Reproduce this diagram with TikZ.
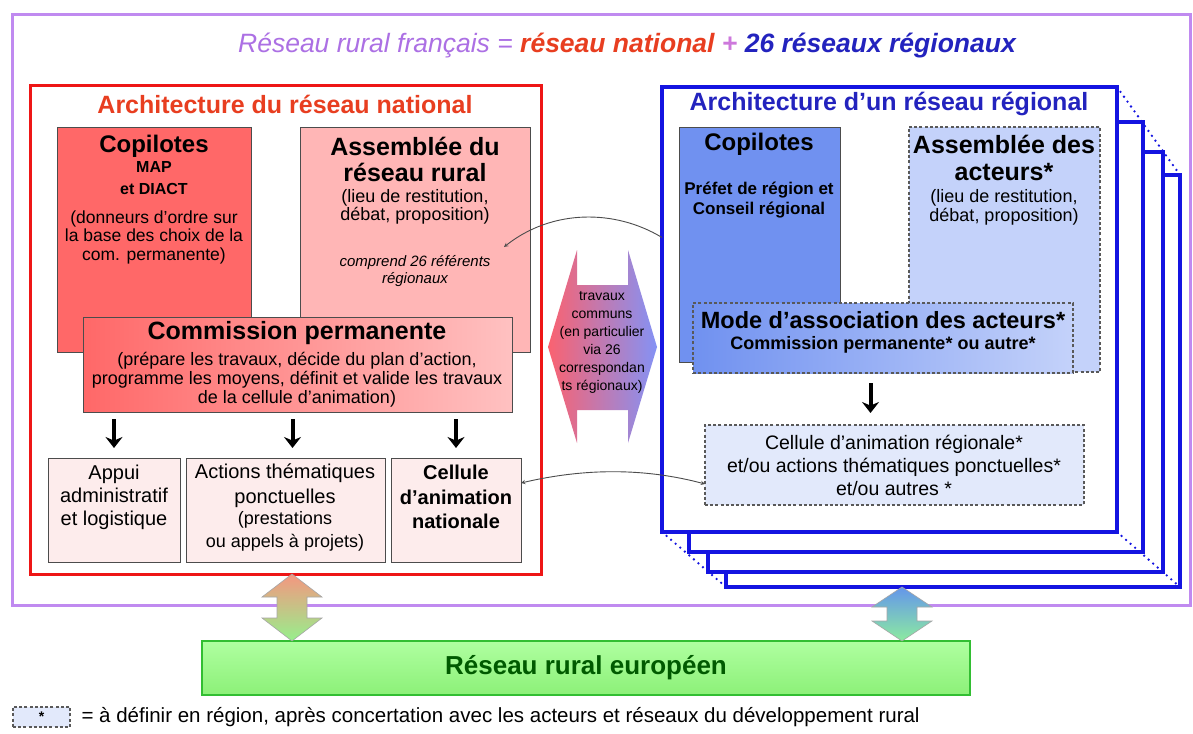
\documentclass[tikz,border=0pt]{standalone}
\usepackage{fontspec}
\setmainfont{Liberation Sans}
\usetikzlibrary{positioning,calc,arrows.meta}

\definecolor{titleviolet}{RGB}{172,112,228}
\definecolor{titleplus}{RGB}{205,120,220}
\definecolor{framepurple}{RGB}{192,138,240}
\definecolor{natred}{RGB}{255,104,104}
\definecolor{natpink}{RGB}{255,182,182}
\definecolor{natpale}{RGB}{253,236,236}
\definecolor{natframe}{RGB}{238,22,22}
\definecolor{natorange}{RGB}{232,62,32}
\definecolor{travred}{RGB}{250,98,112}
\definecolor{travblue}{RGB}{132,146,245}
\definecolor{regblue}{RGB}{20,20,225}
\definecolor{regtitle}{RGB}{35,35,190}
\definecolor{regmid}{RGB}{112,145,240}
\definecolor{reglight}{RGB}{196,210,250}
\definecolor{regpale}{RGB}{226,233,251}
\definecolor{eulight}{RGB}{175,255,160}
\definecolor{eugreen}{RGB}{140,240,120}
\definecolor{euframe}{RGB}{50,190,50}
\definecolor{eutext}{RGB}{0,90,0}
\definecolor{salmon}{RGB}{245,150,128}
\definecolor{paleg}{RGB}{150,240,140}
\definecolor{skyb}{RGB}{100,150,235}
\definecolor{mintg}{RGB}{140,235,160}

\newcommand{\fsz}[2]{\fontsize{#1}{#2}\selectfont}

\tikzset{
  cadre/.style={anchor=north west, inner sep=0pt, outer sep=0pt},
  boite/.style={cadre, draw=black!70, line width=0.8pt},
  tirets/.style={cadre, draw=black!65, line width=1.3pt, dash pattern=on 3pt off 2.2pt},
  pile/.style={cadre, draw=regblue, line width=3.5pt, fill=white},
  points/.style={regblue, line width=2.6pt, line cap=round, dash pattern=on 0pt off 6pt},
  fleche/.style={-{Stealth[length=11pt,width=17pt]}, line width=4pt},
  lien/.style={-stealth, draw=black!70, line width=0.9pt},
}

\begin{document}
\begin{tikzpicture}[x=1pt,y=-1pt]
\useasboundingbox[fill=white] (0,0) rectangle (1193,733);

\node[cadre, draw=framepurple, line width=3pt, minimum width=1178pt, minimum height=590pt] (rrf) at (12,15) {};
\node[font=\fsz{26.5}{30}\bfseries\itshape] (titre) at (627,45) {\textcolor{titleviolet}{\mdseries Réseau rural français =} \textcolor{natorange}{réseau national} \textcolor{titleplus}{+} \textcolor{regtitle}{26 réseaux régionaux}};

\node[cadre, draw=natframe, line width=3pt, minimum width=511pt, minimum height=488pt] (nat) at (30,86) {};
\node[text=natorange, font=\fsz{25}{28}\bfseries] (natT) at (285,104) {Architecture du réseau national};

\node[boite, fill=natred, minimum width=194pt, minimum height=225pt] (cop1) at (57,127) {};
\node[font=\fsz{24}{26}\bfseries] (cop1T) at (154,146) {Copilotes};
\node[font=\fsz{16}{22}\bfseries, align=center] (cop1S) at (154,178) {MAP\\et DIACT};
\node[font=\fsz{17.5}{18.5}, align=center] (cop1P) at (154,237) {(donneurs d'ordre sur\\la base des choix de la\\com. permanente)};

\node[boite, fill=natpink, minimum width=230pt, minimum height=225pt] (ass1) at (300,127) {};
\node[font=\fsz{25}{26}\bfseries, align=center] (ass1T) at (415,159) {Assemblée du\\réseau rural};
\node[font=\fsz{18}{18}, align=center] (ass1P) at (415,207) {(lieu de restitution,\\débat, proposition)};
\node[font=\fsz{15}{17}\itshape, align=center] (ass1R) at (415,271) {comprend 26 référents\\régionaux};

\node[boite, left color=natred, right color=natpink!85, minimum width=429pt, minimum height=95pt] (com1) at (83,317) {};
\node[font=\fsz{25}{26}\bfseries] (com1T) at (297,333) {Commission permanente};
\node[font=\fsz{18}{19}, align=center] (com1P) at (297,380) {(prépare les travaux, décide du plan d'action,\\programme les moyens, définit et valide les travaux\\de la cellule d'animation)};

\node[boite, fill=natpale, minimum width=132pt, minimum height=104pt] (app1) at (48,458) {};
\node[font=\fsz{20}{23}, align=center] (app1T) at (114,497) {Appui\\administratif\\et logistique};
\node[boite, fill=natpale, minimum width=199pt, minimum height=104pt] (act1) at (186,458) {};
\node[font=\fsz{20}{25}, align=center] (act1T) at (285,486) {Actions thématiques\\ponctuelles};
\node[font=\fsz{18}{23}, align=center] (act1P) at (285,531) {(prestations\\ou appels à projets)};
\node[boite, fill=natpale, minimum width=130pt, minimum height=104pt] (cel1) at (391,458) {};
\node[font=\fsz{20}{24.5}\bfseries, align=center] (cel1T) at (456,497) {Cellule\\d'animation\\nationale};

\coordinate (a2) at ([xshift=7pt]act1.north);
\draw[fleche, shorten <=7pt, shorten >=10pt] (app1.north |- com1.south) -- (app1.north);
\draw[fleche, shorten <=7pt, shorten >=10pt] (a2 |- com1.south) -- (a2);
\draw[fleche, shorten <=7pt, shorten >=10pt] (cel1.north |- com1.south) -- (cel1.north);

\shade[left color=travred, right color=travblue] (548,347) -- (577,250) -- (577,285) -- (628,285) -- (628,250) -- (657,347) -- (628,443) -- (628,410) -- (577,410) -- (577,443) -- cycle;
\node[font=\fsz{14}{18}, align=center] (trav) at (602,342) {travaux\\communs\\(en particulier\\via 26\\correspondan\\ts régionaux)};

\node[pile, minimum width=454pt, minimum height=412pt] (reg4) at (726,175) {};
\node[pile, minimum width=455pt, minimum height=420pt] (reg3) at (708,152) {};
\node[pile, minimum width=454pt, minimum height=430pt] (reg2) at (689,122) {};
\node[pile, minimum width=455pt, minimum height=445pt] (reg1) at (662,87) {};
\draw[points] (reg1.north east) -- (reg4.north east);
\draw[points] (reg1.south east) -- (reg4.south east);
\draw[points] (reg1.south west) -- (reg4.south west);
\node[text=regtitle, font=\fsz{25}{28}\bfseries] (regT) at (889,104) {Architecture d'un réseau régional};

\node[boite, fill=regmid, minimum width=161pt, minimum height=235pt] (cop2) at (679,127) {};
\node[font=\fsz{24}{26}\bfseries] (cop2T) at (759,144) {Copilotes};
\node[font=\fsz{17}{20}\bfseries, align=center] (cop2S) at (759,200) {Préfet de région et\\Conseil régional};

\node[tirets, fill=reglight, minimum width=191pt, minimum height=245pt] (ass2) at (909,127) {};
\node[font=\fsz{25}{27}\bfseries, align=center] (ass2T) at (1004,158) {Assemblée des\\acteurs*};
\node[font=\fsz{18}{19}, align=center] (ass2P) at (1004,207) {(lieu de restitution,\\débat, proposition)};

\node[tirets, left color=regmid, right color=reglight, minimum width=380pt, minimum height=70pt] (mod2) at (693,303) {};
\node[font=\fsz{23.5}{26}\bfseries] (mod2T) at (883,320) {Mode d'association des acteurs*};
\node[font=\fsz{18}{20}\bfseries] (mod2S) at (883,345) {Commission permanente* ou autre*};

\node[tirets, fill=regpale, minimum width=379pt, minimum height=80pt] (cel2) at (705,425) {};
\node[font=\fsz{19.5}{23}, align=center] (cel2T) at (894,465) {Cellule d'animation régionale*\\et/ou actions thématiques ponctuelles*\\et/ou autres *};

\coordinate (m2) at ([xshift=-24pt]cel2.north);
\draw[fleche, shorten <=10pt, shorten >=12pt] (m2 |- mod2.south) -- (m2);

\coordinate (ref26) at (504,247);
\draw[lien] ([yshift=72pt]reg1.west) .. controls (615,209) and (552,209) .. (ref26);
\draw[lien, stealth-stealth] ([yshift=27pt]cel1.east) .. controls (585,468) and (645,468) .. ([yshift=-19pt]cel2.west);

\node[cadre, draw=euframe, line width=2.5pt, top color=eulight, bottom color=eugreen, minimum width=768pt, minimum height=54pt, text=eutext, font=\fsz{26}{28}\bfseries] (rre) at (202,641) {Réseau rural européen};

\coordinate (hG) at ([xshift=6.5pt]nat.south);
\shade[top color=salmon, bottom color=paleg, draw=black!35, line width=0.6pt] (hG) -- ++(30,23) -- ++(-15,0) -- ++(0,21) -- ++(15,0) -- (hG |- rre.north) -- ++(-30,-23) -- ++(15,0) -- ++(0,-21) -- ++(-15,0) -- cycle;
\coordinate (hD) at ([xshift=-51pt]reg4.south);
\shade[top color=skyb, bottom color=mintg, draw=black!35, line width=0.6pt] (hD) -- ++(30,20) -- ++(-15,0) -- ++(0,14) -- ++(15,0) -- (hD |- rre.north) -- ++(-30,-20) -- ++(15,0) -- ++(0,-14) -- ++(-15,0) -- cycle;

\node[tirets, fill=regpale, minimum width=57pt, minimum height=20pt, font=\fsz{14}{14}\bfseries] (leg) at (13,707) {*};
\node[right=8pt of leg, font=\fsz{20.5}{22}] (legT) {= à définir en région, après concertation avec les acteurs et réseaux du développement rural};
\end{tikzpicture}
\end{document}
